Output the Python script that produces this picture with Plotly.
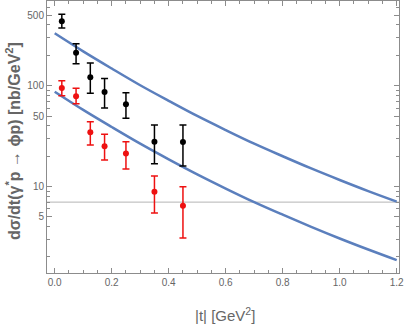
import plotly.graph_objects as go

# Data points (|t| in GeV^2, dsigma/dt in nb/GeV^2)
t_pts = [0.025, 0.075, 0.125, 0.175, 0.25, 0.35, 0.45]
black_y = [435, 212, 121, 86.6, 65.3, 27.8, 27.6]
black_hi = [511, 261, 168, 118, 85.3, 40.7, 40.7]
black_lo = [373, 165, 84, 60, 47.5, 16.8, 16.0]
red_y = [94.9, 78.5, 34.5, 25.1, 21.3, 8.87, 6.46]
red_hi = [112, 94.3, 44, 33, 27.8, 12.7, 9.96]
red_lo = [79.6, 66.2, 25.8, 18.3, 14.9, 5.46, 3.08]

# Model curves
t_curve = [0.0, 0.1, 0.2, 0.3, 0.4, 0.5, 0.6, 0.7, 0.8, 0.9, 1.0, 1.1, 1.2]
upper_curve = [331, 219, 148, 101, 70.8, 50.1, 36.3, 26.6, 19.95, 15.1, 11.6, 9.0, 7.08]
lower_curve = [87.1, 57.5, 38.9, 26.6, 18.6, 13.2, 9.55, 7.0, 5.25, 3.98, 3.05, 2.37, 1.86]

ref_level = 7.0

x_ticks = [0.0, 0.2, 0.4, 0.6, 0.8, 1.0, 1.2]
x_ticklabels = ["0.0", "0.2", "0.4", "0.6", "0.8", "1.0", "1.2"]
y_ticks = [5, 10, 50, 100, 500]
y_ticklabels = ["5", "10", "50", "100", "500"]
y_minor = [2, 3, 4, 6, 7, 8, 9, 20, 30, 40, 60, 70, 80, 90, 200, 300, 400, 600]

fig = go.Figure()

fig.add_trace(go.Scatter(x=[-0.1, 1.3], y=[ref_level, ref_level], mode="lines",
                         line=dict(color="#b4b4b4", width=1), showlegend=False, hoverinfo="skip"))

for yc in (upper_curve, lower_curve):
    fig.add_trace(go.Scatter(x=t_curve, y=yc, mode="lines",
                             line=dict(color="#5b7fbd", width=2.5, shape="spline"),
                             showlegend=False))

def add_points(yv, hi, lo, color):
    fig.add_trace(go.Scatter(
        x=t_pts, y=yv, mode="markers",
        marker=dict(color=color, size=6),
        error_y=dict(type="data", symmetric=False,
                     array=[h - v for h, v in zip(hi, yv)],
                     arrayminus=[v - l for v, l in zip(yv, lo)],
                     color=color, thickness=1.5, width=3.5),
        showlegend=False))

add_points(black_y, black_hi, black_lo, "black")
add_points(red_y, red_hi, red_lo, "#ee1111")

axis_color = "#8c8c8c"
font_family = "Liberation Sans, Arial, sans-serif"
tick_font = dict(family=font_family, size=10, color="#666666")

fig.update_xaxes(range=[-0.027, 1.208], tickvals=x_ticks, ticktext=x_ticklabels, automargin=False,
                 showgrid=False, zeroline=False, showline=True, linecolor=axis_color, linewidth=1,
                 mirror="ticks", ticks="inside", ticklen=5, tickcolor=axis_color,
                 minor=dict(ticks="inside", ticklen=3, tickcolor=axis_color, dtick=0.05, showgrid=False),
                 tickfont=tick_font)

fig.update_yaxes(type="log", range=[0.142, 2.840], tickvals=y_ticks, ticktext=y_ticklabels, automargin=False,
                 showgrid=False, zeroline=False, showline=True, linecolor=axis_color, linewidth=1,
                 mirror="ticks", ticks="inside", ticklen=5, tickcolor=axis_color,
                 minor=dict(ticks="inside", ticklen=3, tickcolor=axis_color, tickvals=y_minor, showgrid=False),
                 tickfont=tick_font)

fig.add_annotation(text="|t| [GeV<sup>2</sup>]", xref="paper", yref="paper", x=0.506, y=-0.154,
                   xanchor="center", yanchor="middle", showarrow=False,
                   font=dict(family=font_family, size=15, color="#666666"))
fig.add_annotation(text="<b>dσ/dt(γ<sup>*</sup>p → ϕp) [nb/GeV<sup>2</sup>]</b>", xref="paper", yref="paper",
                   x=-0.0966, y=0.485, xanchor="center", yanchor="middle", textangle=-90, showarrow=False,
                   font=dict(family=font_family, size=16, color="#666666"))

fig.update_layout(width=407, height=327, margin=dict(l=47, r=8, t=1, b=54),
                  plot_bgcolor="white", paper_bgcolor="white")

fig.write_html("out.html", config={"displayModeBar": False},
               post_script="document.body.style.margin='0';document.body.style.overflow='hidden';")
